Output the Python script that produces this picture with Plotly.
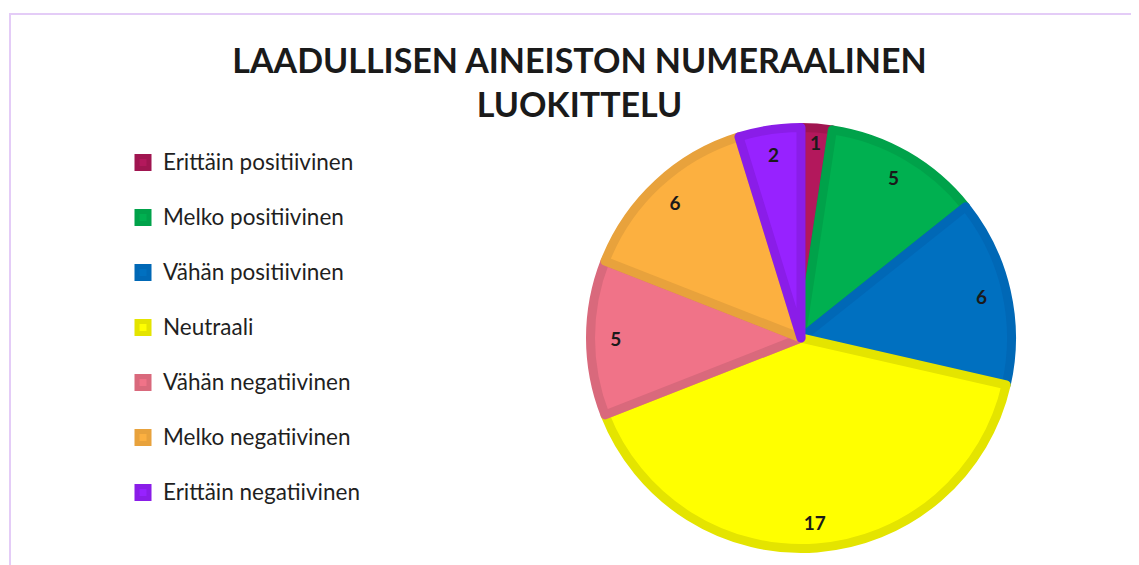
import plotly.graph_objects as go

categories = ["Erittäin positiivinen", "Melko positiivinen", "Vähän positiivinen",
              "Neutraali", "Vähän negatiivinen", "Melko negatiivinen", "Erittäin negatiivinen"]
values = [1, 5, 6, 17, 5, 6, 2]
fill_colors = ["#b3185c", "#00b050", "#0070c0", "#ffff00", "#f07388", "#fcb040", "#9722ff"]
edge_colors = ["#a01550", "#00a24a", "#0068b6", "#e4e400", "#d9697c", "#e8a23c", "#8a1de8"]

W, H = 1139, 565
cx, cy, R = 793, 330, 215
LW = 9
r_draw = R - LW / 2
dom_x = [(cx - r_draw) / W, (cx + r_draw) / W]
dom_y = [(H - cy - r_draw) / H, (H - cy + r_draw) / H]

legend_labels = [f"<span style='font-size:22.5px'>{c}</span><br> " for c in categories]

fig = go.Figure()
fig.add_trace(go.Pie(
    labels=legend_labels, values=values, sort=False, direction="clockwise", rotation=0,
    marker=dict(colors=fill_colors, line=dict(color=edge_colors, width=LW)),
    textinfo="none", hoverinfo="skip", domain=dict(x=dom_x, y=dom_y), showlegend=True,
))
fig.add_trace(go.Pie(
    labels=categories, values=values, sort=False, direction="clockwise", rotation=0,
    hole=0.76, marker=dict(colors=["rgba(0,0,0,0)"] * len(values), line=dict(width=0)),
    text=[str(v) for v in values], textinfo="text", textposition="inside",
    insidetextorientation="horizontal",
    textfont=dict(family="Lato", size=19, color="#1a1a1a", weight="bold"),
    hoverinfo="skip", domain=dict(x=dom_x, y=dom_y), showlegend=False,
))

fig.update_layout(
    width=W, height=H, paper_bgcolor="white", plot_bgcolor="white",
    margin=dict(l=0, r=0, t=0, b=0, autoexpand=False),
    title=dict(text="LAADULLISEN AINEISTON NUMERAALINEN<br>LUOKITTELU",
               x=571.5 / W, xanchor="center", xref="container",
               y=1 - 65 / H, yanchor="top", yref="container",
               font=dict(family="Lato", size=34, color="#1a1a1a", weight="bold")),
    legend=dict(x=115 / W, xanchor="left", xref="paper",
                y=1 - 135 / H, yanchor="top", yref="paper",
                font=dict(family="Lato", size=20, color="#1f1f1f"),
                valign="top", itemwidth=30, bgcolor="rgba(0,0,0,0)"),
    uniformtext=dict(minsize=19, mode="show"),
    shapes=[dict(type="rect", xref="paper", yref="paper",
                 x0=2 / W, x1=1.02, y0=-0.02, y1=1 - 6 / H,
                 line=dict(color="#e4ccf7", width=2), fillcolor="rgba(0,0,0,0)", layer="below")],
)

fig.write_html("out.html")
